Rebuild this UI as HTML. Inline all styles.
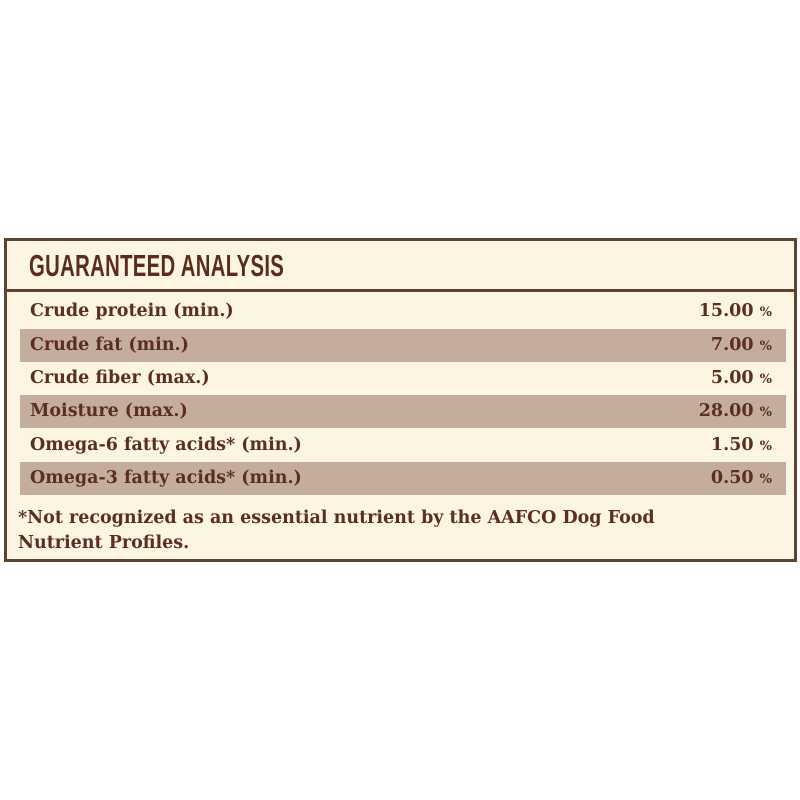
<!DOCTYPE html>
<html><head><style>
body{margin:0;width:800px;height:800px;background:#fff;position:relative;font-family:"DejaVu Serif","Liberation Serif",serif;color:#5b2f1f}
.box{position:absolute;left:4px;top:238px;width:787px;height:318px;border:3px solid #5e4232;background:#fcf5e2}
.hdr{position:absolute;left:0;top:0;width:787px;height:48px;border-bottom:3px solid #5e4232}
.hdr span{position:absolute;left:22px;top:7px;font-family:"Liberation Sans",sans-serif;font-weight:bold;font-size:31px;transform:scaleX(0.655);transform-origin:left;letter-spacing:0.5px;color:#5a2c1c}
.row{position:absolute;left:13px;width:766px;height:33px;font-weight:bold;font-size:17.5px;line-height:33px}
.row.s{background:#c4ad9c}
.row .l{position:absolute;left:10px}
.row .r{position:absolute;right:14px}
.row .r small{font-size:13px}
.foot{position:absolute;left:11px;top:265px;font-weight:bold;font-size:17.5px;line-height:25px}
</style></head><body>
<div class="box">
<div class="hdr"><span>GUARANTEED ANALYSIS</span></div>
<div class="row" style="top:54px"><span class="l">Crude protein (min.)</span><span class="r">15.00 <small>%</small></span></div>
<div class="row s" style="top:88px"><span class="l">Crude fat (min.)</span><span class="r">7.00 <small>%</small></span></div>
<div class="row" style="top:121px"><span class="l">Crude fiber (max.)</span><span class="r">5.00 <small>%</small></span></div>
<div class="row s" style="top:154px"><span class="l">Moisture (max.)</span><span class="r">28.00 <small>%</small></span></div>
<div class="row" style="top:188px"><span class="l">Omega-6 fatty acids* (min.)</span><span class="r">1.50 <small>%</small></span></div>
<div class="row s" style="top:221px"><span class="l">Omega-3 fatty acids* (min.)</span><span class="r">0.50 <small>%</small></span></div>
<div class="foot">*Not recognized as an essential nutrient by the AAFCO Dog Food<br>Nutrient Profiles.</div>
</div>
</body></html>
